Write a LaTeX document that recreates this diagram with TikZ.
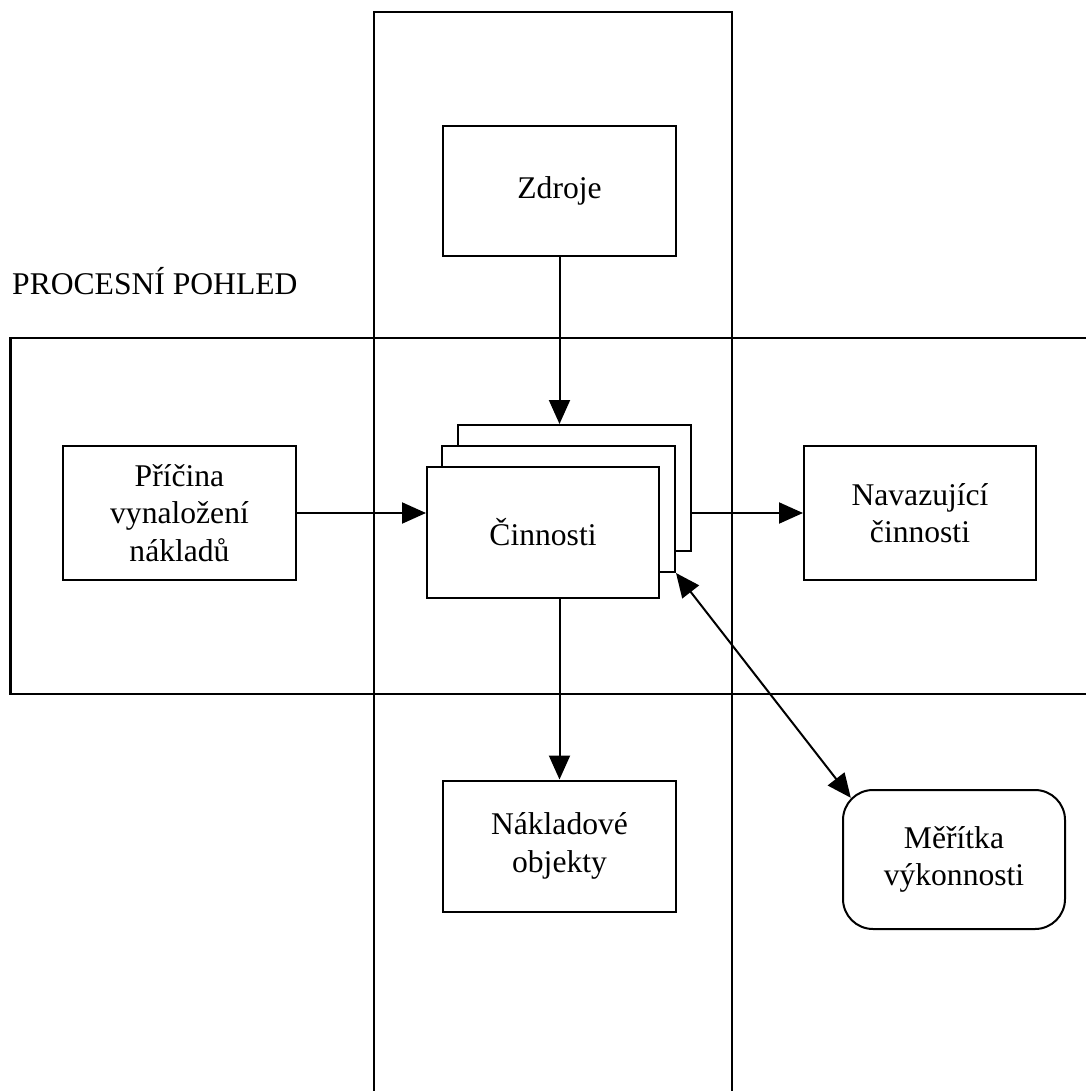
\documentclass[tikz,border=0pt]{standalone}
\usepackage{fontspec}
\setmainfont{Liberation Serif}
\usetikzlibrary{arrows.meta,calc}
\tikzset{
  box/.style={draw, line width=2pt, fill=white, inner sep=0pt, align=center,
              font=\fontsize{31.6}{37.5}\selectfont},
  tip/.style={},
  conn/.style={line width=2pt, -{Triangle[length=24pt,width=21pt]}},
  biconn/.style={line width=2pt, {Triangle[length=24pt,width=21pt]}-{Triangle[length=24pt,width=21pt]}},
  frame/.style={line width=2.2pt},
}
\begin{document}
\begin{tikzpicture}[x=1pt,y=-1pt]
\useasboundingbox (0,0) rectangle (1085,1091);
% frames
\draw[frame] (374,1095) -- (374,12) -- (732,12) -- (732,1095);
\draw[frame] (1090,338) -- (10.5,338) -- (10.5,694) -- (1090,694);
\node[anchor=base west, inner sep=0pt, font=\fontsize{31.6}{37.5}\selectfont] (title) at (12,294) {PROCESNÍ POHLED};
% boxes
\node[box, minimum width=233, minimum height=130] (zdroje) at (559.5,191) {Zdroje};
\node[box, minimum width=233, minimum height=134] (pricina) at (179.5,513) {Příčina\\vynaložení\\nákladů};
\node[box, minimum width=232, minimum height=134] (nav) at (920,513) {Navazující\\činnosti};
\node[box, minimum width=233, minimum height=131] (nakl) at (559.5,846) {Nákladové\\objekty};
\node[box, minimum width=233, minimum height=126] (back) at (574.5,488) {};
\node[box, minimum width=233, minimum height=126] (mid) at (558.5,509) {};
\node[box, minimum width=232, minimum height=131] (front) at (543,532.5) {Činnosti};
\node[box, rounded corners=30pt, minimum width=222, minimum height=139] (meritka) at (954,859.5) {Měřítka\\výkonnosti};
\coordinate (mcorner) at ($(meritka.north west)+(8.8,8.8)$);
% connectors
\draw[conn] (zdroje.south) -- (zdroje.south |- back.north);
\draw[conn] (pricina.east) -- (pricina.east -| front.west);
\draw[conn] (back.east |- nav.west) -- (nav.west);
\draw[conn] (nakl.north |- front.south) -- (nakl.north);
\draw[biconn] (mid.south east) -- (mcorner);
\end{tikzpicture}
\end{document}
